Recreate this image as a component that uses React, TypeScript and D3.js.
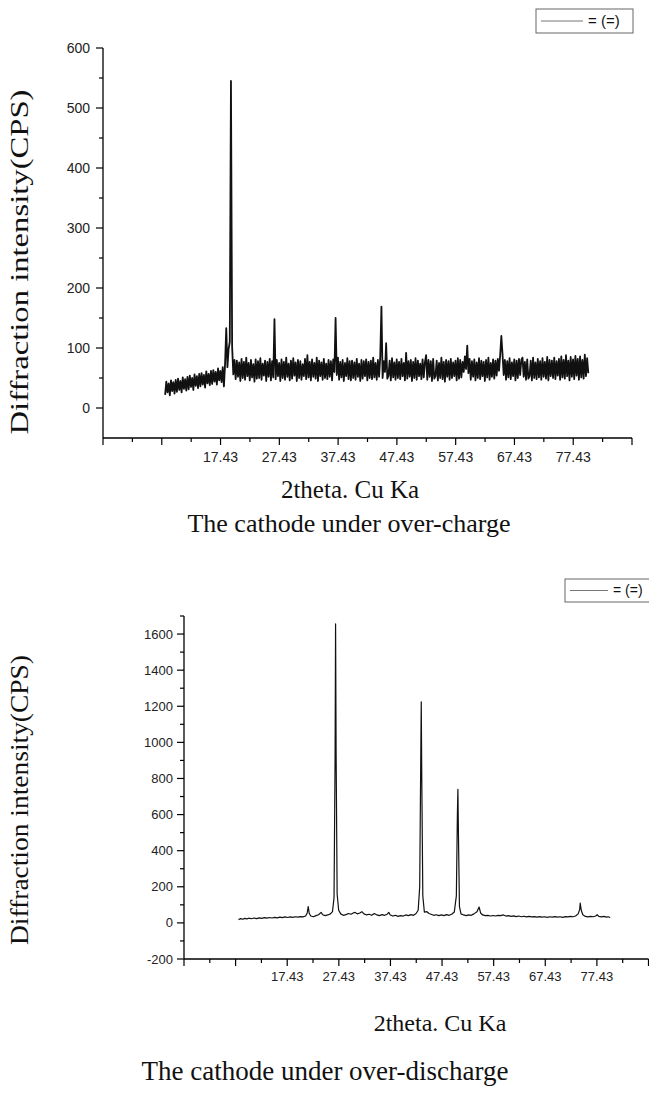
import * as d3 from 'd3';

const W = 649;
const H = 1095;

// over-charge scan: regular 0.2 deg steps from 8 to 80
const topStart = 8;
const topStep = 0.2;
const topIntensity = [
  22, 44, 26, 41, 21, 46, 28, 43, 24, 47,
  27, 49, 30, 45, 26, 51, 32, 48, 29, 52,
  31, 54, 35, 50, 30, 56, 37, 53, 33, 57,
  36, 58, 39, 55, 34, 61, 41, 57, 38, 62,
  40, 63, 44, 60, 39, 66, 46, 62, 43, 68,
  36, 74, 133, 68, 98, 110, 545, 102, 56, 80,
  48, 79, 52, 76, 45, 82, 50, 77, 47, 84,
  53, 75, 46, 80, 51, 73, 44, 81, 49, 78,
  50, 83, 47, 74, 54, 79, 45, 77, 52, 82,
  46, 78, 51, 148, 48, 80, 53, 75, 45, 81,
  50, 77, 47, 84, 52, 74, 46, 79, 49, 83,
  54, 76, 45, 80, 50, 78, 47, 73, 53, 82,
  48, 88, 51, 77, 46, 81, 52, 75, 49, 84,
  45, 79, 53, 76, 47, 82, 50, 74, 48, 80,
  52, 78, 46, 81, 60, 150, 55, 84, 47, 77,
  51, 80, 45, 75, 53, 83, 48, 78, 46, 79,
  50, 76, 47, 82, 52, 74, 45, 80, 49, 78,
  53, 81, 46, 77, 50, 79, 48, 84, 51, 75,
  47, 80, 52, 86, 169, 50, 78, 60, 108, 49,
  54, 79, 46, 83, 51, 76, 47, 81, 50, 77,
  48, 82, 53, 75, 46, 92, 49, 78, 52, 80,
  45, 77, 50, 83, 47, 79, 53, 74, 48, 81,
  51, 76, 88, 47, 80, 52, 78, 45, 82, 49,
  53, 79, 46, 75, 50, 84, 48, 77, 44, 80,
  52, 78, 47, 82, 50, 76, 53, 79, 46, 83,
  49, 80, 51, 77, 60, 86, 65, 104, 58, 82,
  47, 78, 52, 81, 46, 76, 50, 83, 48, 79,
  53, 77, 45, 80, 51, 84, 47, 75, 52, 81,
  49, 79, 54, 82, 62, 88, 120, 90, 55, 80,
  47, 78, 51, 83, 48, 76, 53, 81, 46, 79,
  50, 82, 55, 80, 84, 52, 77, 47, 81, 49,
  53, 79, 46, 84, 50, 76, 48, 82, 51, 78,
  47, 83, 52, 77, 49, 85, 46, 80, 53, 79,
  50, 84, 48, 78, 54, 82, 47, 86, 51, 80,
  49, 88, 53, 79, 46, 85, 52, 81, 48, 87,
  54, 82, 47, 86, 51, 80, 49, 89, 53, 83,
  58,
];

// over-discharge scan
const bottomAngle = [
  8.0, 8.4, 8.8, 9.2, 9.6, 10.0, 10.5, 11, 11.5, 12, 12.5, 13, 13.5, 14, 14.5, 15, 15.5, 16, 16.5, 17,
  17.5, 18, 18.5, 19, 19.5, 20, 20.5, 21, 21.3, 21.5, 21.7, 22, 22.5, 23, 23.5, 24, 24.3, 24.8, 25.3, 25.8,
  26.2, 26.5, 26.7, 26.8, 26.9, 27.1, 27.4, 27.8, 28.3, 28.8, 29.3, 29.8, 30.3, 30.6, 31, 31.5, 31.9, 32.3, 32.8, 33.3,
  33.8, 34.3, 34.8, 35.3, 35.8, 36.3, 36.8, 37.1, 37.4, 37.9, 38.4, 38.9, 39.4, 39.9, 40.4, 40.9, 41.4, 41.9, 42.4, 42.8,
  43.1, 43.3, 43.4, 43.5, 43.7, 44.0, 44.5, 44.9, 45.3, 45.8, 46.3, 46.8, 47.3, 47.8, 48.3, 48.8, 49.3, 49.8, 50.2, 50.4,
  50.5, 50.6, 50.8, 51.1, 51.6, 52.1, 52.6, 53.1, 53.6, 54.2, 54.6, 54.9, 55.3, 55.8, 56.3, 56.8, 57.3, 57.8, 58.3, 58.8,
  59.3, 59.8, 60.3, 60.8, 61.3, 61.8, 62.3, 62.8, 63.3, 63.8, 64.3, 64.8, 65.3, 65.8, 66.3, 66.8, 67.3, 67.8, 68.3, 68.8,
  69.3, 69.8, 70.3, 70.8, 71.3, 71.8, 72.3, 72.8, 73.3, 73.8, 74.1, 74.2, 74.4, 74.7, 75.2, 75.7, 76.2, 76.7, 77.2, 77.5,
  77.8, 78.3, 78.8, 79.3, 79.6, 80,
];
const bottomIntensity = [
  18, 24, 20, 25, 22, 26, 23, 27, 24, 28, 25, 29, 26, 30, 27, 31, 28, 32, 29, 33,
  30, 33, 31, 34, 32, 35, 33, 38, 55, 90, 52, 38, 34, 40, 45, 58, 45, 40, 44, 50,
  62, 140, 900, 1656, 950, 160, 70, 50, 42, 46, 52, 48, 56, 58, 50, 55, 62, 50, 44, 48,
  42, 52, 44, 40, 46, 42, 48, 58, 44, 38, 42, 36, 40, 38, 44, 40, 46, 42, 52, 70,
  200, 900, 1225, 800, 150, 60, 62, 52, 48, 42, 45, 40, 44, 40, 46, 42, 48, 60, 150, 600,
  740, 500, 90, 50, 44, 40, 44, 42, 50, 62, 88, 55, 44, 40, 42, 38, 41, 38, 42, 40,
  44, 38, 40, 36, 39, 35, 38, 34, 37, 33, 36, 33, 35, 32, 35, 32, 34, 31, 34, 32,
  35, 32, 34, 31, 35, 33, 36, 34, 38, 50, 75, 110, 70, 45, 36, 33, 36, 34, 38, 45,
  36, 33, 36, 32, 34, 30,
];

const xMajor = [-2.57, 7.43, 17.43, 27.43, 37.43, 47.43, 57.43, 67.43, 77.43, 87.43];
const xMinor = [2.43, 12.43, 22.43, 32.43, 42.43, 52.43, 62.43, 72.43, 82.43];
const xLabels = [17.43, 27.43, 37.43, 47.43, 57.43, 67.43, 77.43];

const topYMajor = [0, 100, 200, 300, 400, 500, 600];
const topYMinor = [50, 150, 250, 350, 450, 550];
const botYMajor = [-200, 0, 200, 400, 600, 800, 1000, 1200, 1400, 1600];
const botYMinor = [-100, 100, 300, 500, 700, 900, 1100, 1300, 1500, 1700];

const SANS = '"Liberation Sans", Arial, sans-serif';
const SERIF = '"Liberation Serif", "Times New Roman", serif';

type Pt = [number, number];

function Panel(props: {
  pts: Pt[];
  xRange: [number, number];
  yDomain: [number, number];
  yRange: [number, number];
  yMajor: number[];
  yMinor: number[];
  tickFont: number;
  yLabelGap: number;
  xLabelY: number;
  lineWidth: number;
}) {
  const { pts, xRange, yDomain, yRange, yMajor, yMinor, tickFont, yLabelGap, xLabelY, lineWidth } = props;
  const x = d3.scaleLinear().domain([-2.57, 87.43]).range(xRange);
  const y = d3.scaleLinear().domain(yDomain).range(yRange);
  const line = d3.line<Pt>().x(d => x(d[0])).y(d => y(d[1]));
  const x0 = x(-2.57);
  const yBase = y(yDomain[0]);
  const major = 7;
  const minor = 4;

  return (
    <g>
      <path d={line(pts) ?? ''} fill="none" stroke="#111" strokeWidth={lineWidth} strokeLinejoin="round" />
      {/* y axis */}
      <line x1={x0} x2={x0} y1={y(yDomain[1])} y2={yBase} stroke="#000" strokeWidth={1.3} />
      {yMajor.map(v => (
        <g key={'ym' + v}>
          <line x1={x0 - major} x2={x0} y1={y(v)} y2={y(v)} stroke="#000" strokeWidth={1.2} />
          <text x={x0 - yLabelGap} y={y(v)} dy="0.35em" textAnchor="end" fontFamily={SANS} fontSize={tickFont} fill="#222">{v}</text>
        </g>
      ))}
      {yMinor.map(v => (
        <line key={'yn' + v} x1={x0 - minor} x2={x0} y1={y(v)} y2={y(v)} stroke="#000" strokeWidth={1.2} />
      ))}
      {/* x axis */}
      <line x1={x0} x2={x(87.43)} y1={yBase} y2={yBase} stroke="#000" strokeWidth={1.3} />
      {xMajor.map(v => (
        <line key={'xm' + v} x1={x(v)} x2={x(v)} y1={yBase} y2={yBase + major} stroke="#000" strokeWidth={1.2} />
      ))}
      {xMinor.map(v => (
        <line key={'xn' + v} x1={x(v)} x2={x(v)} y1={yBase} y2={yBase + minor} stroke="#000" strokeWidth={1.2} />
      ))}
      {xLabels.map(v => (
        <text key={'xl' + v} x={x(v)} y={xLabelY} textAnchor="middle" fontFamily={SANS} fontSize={tickFont} fill="#222">{v.toFixed(2)}</text>
      ))}
    </g>
  );
}

function Legend({ x, y, w, h, lineLen, font }: { x: number; y: number; w: number; h: number; lineLen: number; font: number }) {
  return (
    <g>
      <rect x={x} y={y} width={w} height={h} fill="#fff" stroke="#666" strokeWidth={1} />
      <line x1={x + 5} x2={x + 5 + lineLen} y1={y + h / 2} y2={y + h / 2} stroke="#777" strokeWidth={1} />
      <text x={x + 10 + lineLen} y={y + h / 2} dy="0.35em" fontFamily={SANS} fontSize={font} fill="#111">= (=)</text>
    </g>
  );
}

export default function App() {
  const topPts: Pt[] = topIntensity.map((v, i) => [topStart + i * topStep, v]);
  const botPts: Pt[] = bottomAngle.map((a, i) => [a, bottomIntensity[i]]);

  return (
    <svg width={W} height={H} style={{ position: 'absolute', left: 0, top: 0, background: '#fff' }}>
      <Panel
        pts={topPts}
        xRange={[103, 632]}
        yDomain={[-50, 600]}
        yRange={[438, 48]}
        yMajor={topYMajor}
        yMinor={topYMinor}
        tickFont={14}
        yLabelGap={13}
        xLabelY={462}
        lineWidth={1.8}
      />
      <Legend x={536} y={9} w={97} h={24} lineLen={42} font={15} />
      <text transform="translate(28,262) rotate(-90)" textAnchor="middle" fontFamily={SERIF} fontSize={25} fill="#111"
        textLength={345} lengthAdjust="spacingAndGlyphs">Diffraction intensity(CPS)</text>
      <text x={350} y={498} textAnchor="middle" fontFamily={SERIF} fontSize={25} fill="#111">2theta. Cu Ka</text>
      <text x={349} y={532} textAnchor="middle" fontFamily={SERIF} fontSize={26} fill="#111">The cathode under over-charge</text>

      <Panel
        pts={botPts}
        xRange={[184, 648.5]}
        yDomain={[-200, 1700]}
        yRange={[959, 616]}
        yMajor={botYMajor}
        yMinor={botYMinor}
        tickFont={13}
        yLabelGap={11}
        xLabelY={981}
        lineWidth={1.2}
      />
      <Legend x={565} y={579} w={95} h={23} lineLen={38} font={14} />
      <text transform="translate(28,800) rotate(-90)" textAnchor="middle" fontFamily={SERIF} fontSize={25} fill="#111"
        textLength={290} lengthAdjust="spacingAndGlyphs">Diffraction intensity(CPS)</text>
      <text x={440} y={1031} textAnchor="middle" fontFamily={SERIF} fontSize={24} fill="#111">2theta. Cu Ka</text>
      <text x={325} y={1080} textAnchor="middle" fontFamily={SERIF} fontSize={27} fill="#111">The cathode under over-discharge</text>
    </svg>
  );
}
